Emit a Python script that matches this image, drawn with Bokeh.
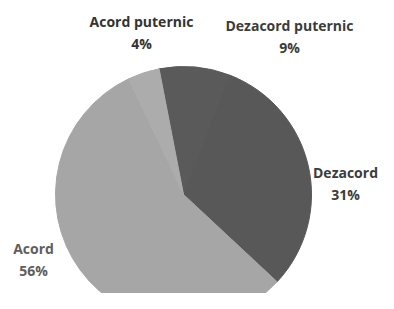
import math
from bokeh.plotting import figure
from bokeh.models import Range1d, ColumnDataSource
from bokeh.core.properties import value
from bokeh.embed import file_html
from bokeh.resources import INLINE

# data (clockwise order, starting just left of 12 o'clock)
categories = ["Dezacord puternic", "Dezacord", "Acord", "Acord puternic"]
percents = [9, 31, 56, 4]
colors = ["#5a5a5a", "#585858", "#a6a6a6", "#acacac"]

# layout (reference-image pixels, figure origin at top-left)
H = 309
cx, cy, R = 183, 194, 128
start_from_top = -11.0  # degrees, clockwise from 12 o'clock

label_pos = {  # label centre (x, y of first line) in image pixels
    "Acord puternic": (141, 21),
    "Dezacord puternic": (289, 25),
    "Dezacord": (345, 172),
    "Acord": (33, 248),
}
label_col = {"Acord puternic": "#333333", "Dezacord puternic": "#3c3c3c",
             "Dezacord": "#3c3c3c", "Acord": "#5e5e5e"}

p = figure(width=378, height=293, output_backend="svg", toolbar_location=None,
           x_range=Range1d(0, 378), y_range=Range1d(H - 293, H), min_border=0)
p.axis.visible = False
p.grid.visible = False
p.outline_line_color = None
p.background_fill_color = "white"

total = sum(percents)
starts, ends = [], []
a = 90 - start_from_top
for v in percents:
    span = v / total * 360
    ends.append(math.radians(a))
    starts.append(math.radians(a - span))
    a -= span

src = ColumnDataSource(dict(x=[cx] * 4, y=[H - cy] * 4, s=starts, e=ends, c=colors))
p.wedge(x="x", y="y", radius=R, start_angle="s", end_angle="e", fill_color="c",
        line_color="c", line_width=1, source=src)

tx, ty, tt, tc = [], [], [], []
for cat, v in zip(categories, percents):
    x0, y0 = label_pos[cat]
    tx += [x0, x0]
    ty += [H - y0, H - y0 - 22]
    tt += [cat, f"{v}%"]
    tc += [label_col[cat]] * 2
p.text(x=tx, y=ty, text=tt, text_color=tc, text_align="center", text_baseline="middle",
       text_font=value("Open Sans"), text_font_style="bold", text_font_size="14px")

open("out.html", "w").write(file_html(p, INLINE))
